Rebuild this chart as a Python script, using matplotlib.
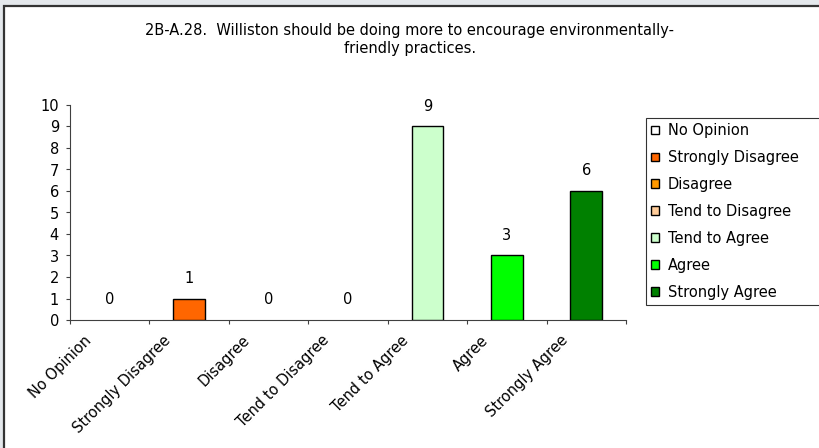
import numpy as np
import matplotlib
matplotlib.use('Agg')
import matplotlib.pyplot as plt
import matplotlib.transforms as mtransforms
from matplotlib.patches import Rectangle

plt.rcParams['font.family'] = ['DejaVu Sans']

# data
categories = ['No Opinion', 'Strongly Disagree', 'Disagree', 'Tend to Disagree',
              'Tend to Agree', 'Agree', 'Strongly Agree']
counts = [0, 1, 0, 0, 9, 3, 6]
colors = ['#FFFFFF', '#FF6600', '#FF9900', '#FFCC99', '#CCFFCC', '#00FF00', '#008000']
title = '2B-A.28.  Williston should be doing more to encourage environmentally-\nfriendly practices.'

W, H = 820, 448
fs = 10.5
fig = plt.figure(figsize=(W / 100, H / 100), dpi=100)
fig.patch.set_facecolor('#E4E8EC')
# white chart area, dark border on top/left
fig.patches.append(Rectangle((4.5 / W, -0.05), 1.1, (H - 6.5) / H + 0.05,
                             transform=fig.transFigure, facecolor='white',
                             edgecolor='#333333', linewidth=1.6, zorder=-5))

ax = fig.add_axes([70 / W, (H - 320) / H, (626 - 70) / W, (320 - 105) / H])
ax.set_zorder(2)
ax.set_facecolor('none')

x = np.arange(len(categories))
bars = []
for i in range(len(categories)):
    b = ax.bar(x[i], counts[i], width=0.4, color=colors[i], edgecolor='black',
               linewidth=1.0, label=categories[i], zorder=3)
    bars.append(b[0])
    ax.annotate(str(counts[i]), (x[i], counts[i]), xytext=(0, 14.5),
                textcoords='offset points', ha='center', va='center', fontsize=fs)

ax.set_xlim(-0.5, len(categories) - 0.5)
ax.set_ylim(0, 10)
ax.set_yticks(range(0, 11))
ax.tick_params(axis='y', direction='out', length=3, width=0.8, color='#404040',
               labelsize=fs, pad=5)
ax.set_xticks(x)
ax.set_xticklabels(categories, rotation=45, ha='right', va='center',
                   rotation_mode='anchor', fontsize=fs)
ax.set_xticks(np.arange(-0.5, len(categories)), minor=True)
ax.tick_params(axis='x', which='major', length=0, pad=13)
ax.tick_params(axis='x', which='minor', direction='out', length=3, width=0.8,
               color='#404040')
shift = mtransforms.ScaledTranslation(-21 / 100, 0, fig.dpi_scale_trans)
for lab in ax.get_xticklabels():
    lab.set_transform(lab.get_transform() + shift)

for s in ['top', 'right']:
    ax.spines[s].set_visible(False)
for s in ['left', 'bottom']:
    ax.spines[s].set_color('#404040')
    ax.spines[s].set_linewidth(0.8)

fig.text(410 / W, (H - 40) / H, title, ha='center', va='center', fontsize=fs,
         linespacing=1.25)

leg = fig.legend(loc='upper left', bbox_to_anchor=(646 / W, (H - 118) / H, 200 / W, 0),
                 mode='expand', fontsize=fs, frameon=True, fancybox=False,
                 edgecolor='black', handlelength=0.55, handleheight=0.55,
                 handletextpad=0.6, labelspacing=0.82, borderpad=0.35,
                 borderaxespad=0)
leg.get_frame().set_linewidth(0.8)

# zero-height bars leave no visible outline on the axis
for b, c in zip(bars, counts):
    if c == 0:
        b.set_linewidth(0)

fig.savefig('out.png', dpi=100, facecolor=fig.get_facecolor())
